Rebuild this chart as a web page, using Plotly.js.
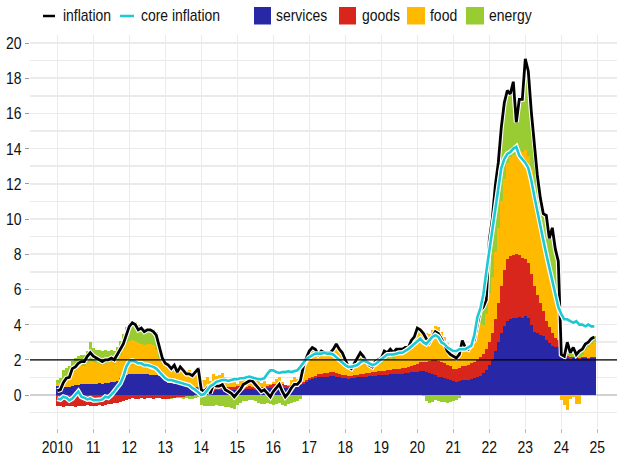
<!DOCTYPE html>
<html>
<head>
<meta charset="utf-8">
<script src="https://cdn.plot.ly/plotly-3.0.1.min.js"></script>
<style>
html,body{margin:0;padding:0;background:#fff;}
#chart{width:619px;height:456px;}
</style>
</head>
<body>
<div id="chart"></div>
<script>
// ---- data: monthly, Jan 2010 .. Dec 2024 ----
const startYear = 2010;
const yearTicks = [2010,2011,2012,2013,2014,2015,2016,2017,2018,2019,2020,2021,2022,2023,2024,2025];
const yearLabels = ['2010','11','12','13','14','15','16','17','18','19','20','21','22','23','24','25'];
const target = 2;

const inflation = [
 0.25,0.3,0.7,0.95,1.0,1.5,1.6,1.8,1.9,1.9,2.2,2.4,
 2.2,2.1,2.0,1.9,2.0,2.0,2.1,2.0,2.3,2.6,2.9,3.4,
 3.9,4.1,4.0,3.7,3.8,3.6,3.7,3.7,3.6,3.4,2.7,2.1,
 1.8,1.7,1.5,1.7,1.3,1.6,1.4,1.2,1.2,1.1,1.3,1.5,
 0.3,0.2,0.4,0.1,0.6,0.5,0.5,0.6,0.3,0.2,0.1,-0.1,
 0.1,0.3,0.6,0.7,0.8,0.8,0.6,0.4,0.2,0.3,0.1,-0.1,
 0.2,0.4,0.6,0.2,-0.1,0.1,0.4,0.6,0.6,0.8,1.6,2.1,
 2.5,2.7,2.6,2.3,2.5,2.4,2.4,2.4,2.6,2.9,2.6,2.4,
 2.0,1.6,1.5,1.8,2.1,2.4,2.2,1.9,1.7,1.6,1.9,2.0,
 2.1,2.5,2.4,2.6,2.4,2.6,2.6,2.6,2.7,2.7,3.1,3.3,
 3.8,3.7,3.5,3.2,3.0,3.3,3.6,3.5,3.2,2.9,2.5,2.3,
 2.2,2.1,2.3,3.1,2.7,2.6,2.9,3.1,4.0,4.8,5.0,5.4,
 8.8,10.0,11.9,13.2,15.2,16.6,17.3,17.1,17.8,15.5,16.8,16.8,
 19.1,18.4,16.1,14.3,12.5,11.2,10.3,10.2,8.9,9.5,8.3,7.6,
 2.3,2.2,3.0,2.4,2.7,2.3,2.5,2.6,2.9,3.0,3.2,3.3
];
const coreInflation = [
 -0.2,-0.25,-0.1,-0.15,-0.3,-0.2,0.0,0.2,-0.1,-0.15,-0.25,-0.2,
 -0.3,-0.3,-0.3,-0.25,-0.1,-0.15,0.0,0.2,0.45,0.65,1.05,1.6,
 1.9,1.95,1.9,1.8,1.8,1.7,1.7,1.65,1.6,1.5,1.3,1.1,
 0.95,0.85,0.85,0.8,0.75,0.7,0.65,0.6,0.55,0.4,0.3,0.15,
 0.0,0.05,0.25,0.5,0.6,0.75,0.8,0.85,0.85,0.8,0.85,0.9,
 0.9,0.95,0.95,1.0,1.05,1.0,0.95,0.9,0.9,0.95,1.2,1.4,
 1.4,1.3,1.25,1.3,1.3,1.35,1.3,1.35,1.4,1.6,1.85,2.05,
 2.15,2.25,2.35,2.35,2.35,2.4,2.35,2.35,2.3,2.15,2.0,1.8,
 1.7,1.6,1.6,1.65,1.7,1.85,1.95,1.9,1.8,1.7,1.75,1.9,
 2.05,2.15,2.3,2.3,2.3,2.35,2.4,2.4,2.5,2.6,2.75,2.9,
 3.1,3.2,3.0,2.9,3.1,3.3,3.4,3.3,3.0,2.9,2.7,2.6,
 2.5,2.5,2.6,2.6,2.6,2.7,2.8,3.4,4.4,4.9,5.7,7.0,
 8.2,9.4,10.6,12.0,12.9,13.4,13.7,13.8,14.0,14.1,13.6,13.4,
 13.2,12.9,12.2,11.3,10.4,9.6,8.8,8.0,7.2,6.4,5.7,5.0,
 4.6,4.3,4.3,4.2,4.1,4.2,4.0,4.0,3.9,4.0,3.9,3.9
];
const services = [
 0.50,0.50,0.45,0.45,0.48,0.50,0.55,0.58,0.60,0.60,0.62,0.62,
 0.65,0.65,0.68,0.65,0.68,0.70,0.72,0.72,0.80,0.95,1.05,1.15,
 1.20,1.22,1.22,1.20,1.20,1.18,1.18,1.15,1.15,1.12,1.10,1.08,
 0.90,0.70,0.68,0.65,0.62,0.60,0.55,0.52,0.50,0.48,0.45,0.42,
 0.28,0.25,0.28,0.28,0.25,0.28,0.30,0.30,0.28,0.28,0.30,0.30,
 0.30,0.32,0.30,0.33,0.35,0.32,0.30,0.32,0.35,0.35,0.38,0.40,
 0.40,0.42,0.45,0.42,0.40,0.42,0.45,0.48,0.50,0.55,0.65,0.75,
 0.85,0.90,0.95,1.00,1.00,1.05,1.05,1.08,1.10,1.05,1.00,0.95,
 0.95,0.92,0.95,0.98,1.00,1.02,1.05,1.05,1.08,1.10,1.10,1.12,
 1.12,1.15,1.15,1.18,1.20,1.20,1.22,1.22,1.25,1.25,1.28,1.30,
 1.32,1.35,1.35,1.30,1.25,1.20,1.15,1.05,1.00,0.95,0.90,0.85,
 0.80,0.75,0.78,0.85,0.85,0.88,0.90,0.95,1.00,1.10,1.25,1.40,
 1.70,2.00,2.50,3.00,3.50,3.90,4.20,4.30,4.35,4.40,4.45,4.40,
 4.50,4.40,4.00,3.60,3.50,3.40,3.35,3.10,2.95,2.80,2.75,2.70,
 2.10,2.10,2.10,2.05,2.10,2.10,2.05,2.10,2.10,2.05,2.10,2.10
];
const goods = [
 -0.60,-0.65,-0.70,-0.65,-0.62,-0.65,-0.70,-0.62,-0.65,-0.60,-0.58,-0.60,
 -0.65,-0.60,-0.58,-0.60,-0.55,-0.52,-0.50,-0.48,-0.45,-0.40,-0.35,-0.30,
 -0.20,-0.18,-0.20,-0.22,-0.18,-0.20,-0.15,-0.18,-0.20,-0.15,-0.18,-0.22,
 -0.20,-0.22,-0.18,-0.15,-0.12,-0.10,-0.10,-0.08,-0.05,-0.05,0.00,0.02,
 0.05,0.05,0.08,0.08,0.10,0.10,0.12,0.12,0.15,0.15,0.18,0.18,
 0.20,0.20,0.18,0.15,0.15,0.12,0.12,0.10,0.10,0.12,0.15,0.18,
 0.20,0.22,0.20,0.18,0.15,0.12,0.10,0.08,0.08,0.08,0.10,0.12,
 0.12,0.15,0.15,0.18,0.18,0.20,0.20,0.22,0.22,0.22,0.22,0.20,
 0.18,0.18,0.15,0.15,0.15,0.15,0.15,0.18,0.18,0.20,0.20,0.22,
 0.22,0.22,0.25,0.25,0.25,0.28,0.28,0.30,0.30,0.32,0.35,0.40,
 0.45,0.50,0.55,0.60,0.70,0.80,0.85,0.90,0.90,0.85,0.80,0.80,
 0.70,0.72,0.75,0.78,0.80,0.85,0.90,0.95,1.00,1.05,1.10,1.20,
 1.30,1.50,1.80,2.20,2.70,3.20,3.50,3.60,3.60,3.60,3.50,3.40,
 3.20,3.10,2.90,2.60,2.20,1.80,1.40,1.10,0.90,0.70,0.50,0.40,
 0.15,0.15,0.12,0.10,0.08,0.05,0.05,0.05,0.05,0.05,0.05,0.05
];
const food = [
 0.20,0.20,0.35,0.45,0.50,0.80,0.90,1.00,1.05,1.05,1.20,1.30,
 1.20,1.15,1.10,1.05,1.10,1.10,1.15,1.05,1.20,1.35,1.55,1.80,
 1.85,1.90,1.85,1.75,1.70,1.65,1.70,1.75,1.70,1.45,1.00,0.80,
 1.00,1.05,1.00,1.05,0.85,1.05,1.00,0.85,0.90,0.85,1.00,1.15,
 0.55,0.55,0.65,0.45,0.85,0.70,0.70,0.85,0.60,0.50,0.40,0.25,
 0.15,0.25,0.45,0.55,0.60,0.65,0.55,0.45,0.25,0.30,0.10,0.05,
 0.15,0.25,0.40,0.15,0.00,0.05,0.30,0.45,0.35,0.40,0.85,1.10,
 1.20,1.30,1.20,0.90,1.15,1.05,1.05,1.00,1.15,1.50,1.30,1.15,
 0.75,0.40,0.25,0.45,0.65,0.85,0.65,0.40,0.25,0.15,0.35,0.35,
 0.45,0.80,0.65,0.75,0.60,0.80,0.80,0.85,0.95,1.00,1.25,1.35,
 1.75,1.65,1.65,1.65,1.50,1.70,1.90,1.90,1.70,1.50,1.25,1.05,
 1.05,0.95,0.90,1.25,0.90,0.80,0.95,1.00,1.60,1.95,1.65,2.00,
 2.80,3.20,3.80,4.30,4.80,5.20,5.50,5.60,5.70,5.80,5.90,6.00,
 6.20,6.10,5.90,5.70,5.10,4.70,4.15,3.80,3.15,2.70,2.15,1.50,
 -0.30,-0.55,-0.85,-0.20,-0.10,-0.50,-0.50,0.10,0.40,0.60,0.75,0.90
];
const energy = [
 0.15,0.25,0.60,0.65,0.65,0.65,0.65,0.65,0.60,0.60,0.70,1.10,
 0.80,0.75,0.75,0.80,0.75,0.70,0.70,0.75,0.70,0.75,0.85,0.90,
 1.05,1.10,1.10,1.00,1.00,0.95,0.95,0.90,0.90,1.00,0.80,0.45,
 0.05,0.05,-0.05,0.05,-0.05,-0.05,-0.10,-0.10,-0.15,-0.15,-0.15,-0.10,
 -0.55,-0.60,-0.60,-0.65,-0.60,-0.55,-0.60,-0.65,-0.70,-0.70,-0.75,-0.80,
 -0.55,-0.45,-0.35,-0.35,-0.30,-0.30,-0.35,-0.45,-0.50,-0.50,-0.45,-0.50,
 -0.55,-0.50,-0.45,-0.55,-0.60,-0.50,-0.45,-0.40,-0.35,-0.25,0.00,0.15,
 0.35,0.35,0.30,0.20,0.15,0.10,0.10,0.10,0.15,0.15,0.10,0.10,
 0.10,0.10,0.15,0.20,0.30,0.40,0.35,0.25,0.20,0.15,0.25,0.30,
 0.30,0.35,0.35,0.40,0.35,0.30,0.30,0.25,0.20,0.15,0.20,0.25,
 0.30,0.20,-0.05,-0.35,-0.45,-0.40,-0.30,-0.35,-0.40,-0.40,-0.45,-0.40,
 -0.35,-0.30,-0.15,0.20,0.15,0.10,0.15,0.20,0.40,0.70,1.00,0.80,
 3.00,3.30,3.80,3.70,4.20,4.30,4.10,3.60,4.15,1.70,2.95,3.00,
 5.20,4.80,3.30,2.40,1.70,1.30,1.40,2.20,1.90,3.30,2.90,3.00,
 0.00,0.30,0.40,0.35,0.40,0.30,0.35,0.35,0.30,0.30,0.30,0.30
];

// month positions on a year axis
const months = inflation.map((_, i) => startYear + i / 12);

const colors = {services:'#2828a6', goods:'#d9261c', food:'#ffba00', energy:'#99cc33',
                inflation:'#000000', core:'#1cc8d4'};
const FONT = '"Liberation Sans", Arial, sans-serif';
const FS = 17;          // font size; glyphs are narrowed afterwards
const NARROW = 0.82;    // horizontal squeeze to mimic a narrow face

function barTrace(name, vals, color){
  return {type:'bar', name:name, x:months, y:vals, width:1/12,
          marker:{color:color, line:{width:0}}, showlegend:false, hoverinfo:'skip'};
}
function lineTrace(name, vals, color, w){
  return {type:'scatter', mode:'lines', name:name, x:months, y:vals,
          line:{color:color, width:w, shape:'linear'}, showlegend:false, hoverinfo:'skip'};
}

const traces = [
  barTrace('services', services, colors.services),
  barTrace('goods', goods, colors.goods),
  barTrace('food', food, colors.food),
  barTrace('energy', energy, colors.energy),
  lineTrace('inflation halo', inflation, '#ffffff', 5),
  lineTrace('inflation', inflation, colors.inflation, 2.8),
  lineTrace('core halo', coreInflation, '#ffffff', 5),
  lineTrace('core inflation', coreInflation, colors.core, 2.6)
];

// plot geometry (px)
const W = 619, H = 456, mL = 30, mR = 2, mT = 35, mB = 28;
const pw = W - mL - mR, ph = H - mT - mB;
const px = x => (x - mL) / pw;          // pixel -> paper x
const py = y => (H - mB - y) / ph;      // pixel -> paper y

// legend built from shapes + annotations
const legendItems = [
  {kind:'line', color:colors.inflation, x0:43, x1:55, tx:62, text:'inflation'},
  {kind:'line', color:colors.core, x0:120, x1:134, tx:140, text:'core inflation'},
  {kind:'box', color:colors.services, x0:254, x1:271, tx:275, text:'services'},
  {kind:'box', color:colors.goods, x0:339, x1:356, tx:361, text:'goods'},
  {kind:'box', color:colors.food, x0:407, x1:425, tx:429, text:'food'},
  {kind:'box', color:colors.energy, x0:466, x1:484, tx:488, text:'energy'}
];
const shapes = [
  {type:'line', xref:'paper', yref:'y', x0:0, x1:1, y0:target, y1:target,
   line:{color:'#000', width:1.2}, layer:'above'}
];
const annotations = [];
legendItems.forEach(it => {
  if (it.kind === 'line') {
    shapes.push({type:'line', xref:'paper', yref:'paper', x0:px(it.x0), x1:px(it.x1),
      y0:py(16), y1:py(16), line:{color:it.color, width:2.5}});
  } else {
    shapes.push({type:'rect', xref:'paper', yref:'paper', x0:px(it.x0), x1:px(it.x1),
      y0:py(24.5), y1:py(7), fillcolor:it.color, line:{width:0}});
  }
  annotations.push({xref:'paper', yref:'paper', x:px(it.tx), y:py(16), xanchor:'left', yanchor:'middle',
    align:'left', text:it.text, showarrow:false, font:{family:FONT, size:FS, color:'#111'}, borderpad:0});
});

const layout = {
  width:W, height:H,
  margin:{l:mL, r:mR, t:mT, b:mB, pad:0},
  paper_bgcolor:'#fff', plot_bgcolor:'#fff',
  barmode:'relative', bargap:0,
  showlegend:false,
  font:{family:FONT, size:FS, color:'#111'},
  xaxis:{
    range:[startYear - 27.3/36, startYear - 27.3/36 + pw/36],
    tickmode:'array', tickvals:yearTicks, ticktext:yearLabels,
    ticks:'outside', ticklen:4, tickcolor:'#bbbbbb', tickwidth:1,
    showgrid:true, gridcolor:'#ebebeb', gridwidth:1.5,
    zeroline:false, showline:false,
    tickfont:{family:FONT, size:FS, color:'#111'}
  },
  yaxis:{
    range:[-33/17.6, (395-35)/17.6],
    tickmode:'array', tickvals:[0,2,4,6,8,10,12,14,16,18,20],
    ticks:'outside', ticklen:4, tickcolor:'#999999', tickwidth:1,
    showgrid:true, gridcolor:'#ebebeb', gridwidth:1.5,
    minor:{dtick:1, tick0:0, showgrid:true, gridcolor:'#ebebeb', gridwidth:1.5, ticks:''},
    zeroline:true, zerolinecolor:'#d2d2d2', zerolinewidth:1.5,
    showline:false,
    tickfont:{family:FONT, size:FS, color:'#111'}
  },
  shapes:shapes,
  annotations:annotations
};

// squeeze glyphs horizontally (text stays real text)
function narrowText(gd){
  gd.querySelectorAll('g.xtick text, g.ytick text, g.annotation-text-g text').forEach(t => {
    const L = t.getComputedTextLength();
    if (L > 0) {
      t.setAttribute('textLength', (L * NARROW).toFixed(2));
      t.setAttribute('lengthAdjust', 'spacingAndGlyphs');
    }
  });
}

Plotly.newPlot('chart', traces, layout, {staticPlot:true, displayModeBar:false})
  .then(gd => narrowText(gd));
</script>
</body>
</html>
